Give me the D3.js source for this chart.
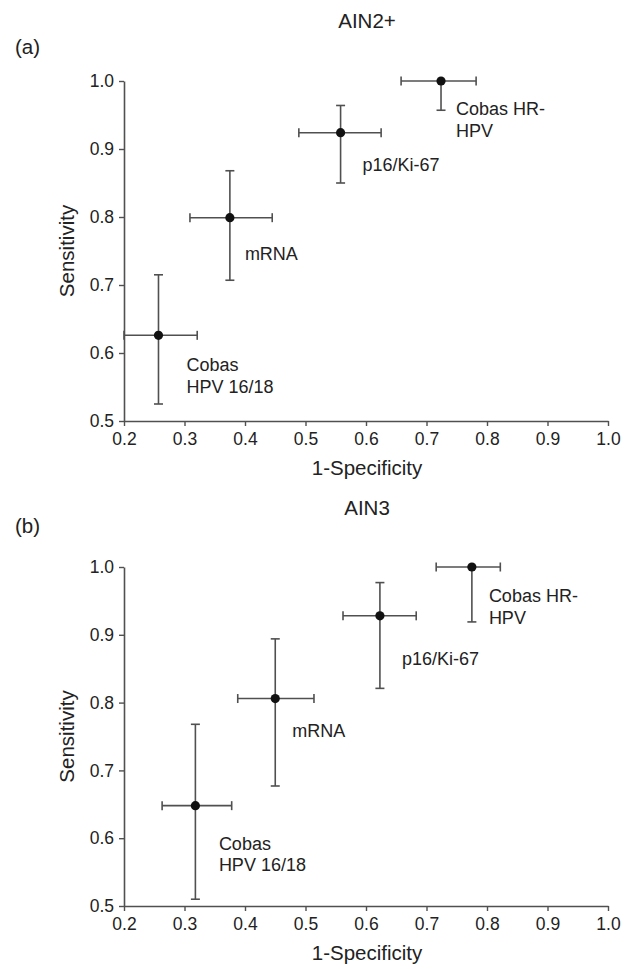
<!DOCTYPE html>
<html>
<head>
<meta charset="utf-8">
<script src="https://cdn.jsdelivr.net/npm/d3@7"></script>
<style>
  body { margin: 0; background: #fff; }
  svg { display: block; }
  text { font-family: "Liberation Sans", Arial, sans-serif; fill: #222; }
</style>
</head>
<body>
<script>
// Test names, shared by both panels
var methods = ["Cobas HR-HPV", "p16/Ki-67", "mRNA", "Cobas HPV 16/18"];
var methodLines = [["Cobas HR-", "HPV"], ["p16/Ki-67"], ["mRNA"], ["Cobas", "HPV 16/18"]];

// Panel (a) AIN2+ : 1-specificity and sensitivity with 95% CI
var ain2X   = [0.724, 0.558, 0.375, 0.257];
var ain2XLo = [0.658, 0.489, 0.309, 0.200];
var ain2XHi = [0.782, 0.625, 0.445, 0.321];
var ain2Y   = [1.000, 0.924, 0.799, 0.626];
var ain2YLo = [0.957, 0.850, 0.707, 0.525];
var ain2YHi = [1.000, 0.964, 0.868, 0.715];

// Panel (b) AIN3
var ain3X   = [0.775, 0.623, 0.450, 0.318];
var ain3XLo = [0.716, 0.562, 0.388, 0.263];
var ain3XHi = [0.822, 0.683, 0.514, 0.378];
var ain3Y   = [1.000, 0.928, 0.806, 0.648];
var ain3YLo = [0.919, 0.821, 0.677, 0.510];
var ain3YHi = [1.000, 0.977, 0.894, 0.768];

var xTicks = [0.2, 0.3, 0.4, 0.5, 0.6, 0.7, 0.8, 0.9, 1.0];
var yTicks = [0.5, 0.6, 0.7, 0.8, 0.9, 1.0];

var width = 624, height = 969;
var svg = d3.select("body").append("svg")
    .attr("width", width)
    .attr("height", height);

var lineColor = "#505050";

function rows(xs, xlo, xhi, ys, ylo, yhi) {
    return methods.map(function (m, i) {
        return { name: m, lines: methodLines[i], x: xs[i], xlo: xlo[i], xhi: xhi[i],
                 y: ys[i], ylo: ylo[i], yhi: yhi[i] };
    });
}

// Draws one panel; top/bottom are pixel rows of sensitivity 1.0 and 0.5
function drawPanel(opts) {
    var x = d3.scaleLinear().domain([0.2, 1.0]).range([124, 608]);
    var y = d3.scaleLinear().domain([0.5, 1.0]).range([opts.bottom, opts.top]);
    var g = svg.append("g");

    // Panel title and letter
    g.append("text").attr("x", 367).attr("y", opts.titleY)
        .attr("text-anchor", "middle").style("font-size", "20.5px").text(opts.title);
    g.append("text").attr("x", 15).attr("y", opts.letterY)
        .style("font-size", "20.5px").text(opts.letter);

    // Axes
    var xAxis = g.append("g").attr("transform", "translate(0," + opts.bottom + ")")
        .call(d3.axisBottom(x).tickValues(xTicks).tickFormat(d3.format(".1f"))
            .tickSize(5).tickSizeOuter(0).tickPadding(7));
    var yAxis = g.append("g").attr("transform", "translate(124,0)")
        .call(d3.axisLeft(y).tickValues(yTicks).tickFormat(d3.format(".1f"))
            .tickSize(5).tickSizeOuter(0).tickPadding(5));
    [xAxis, yAxis].forEach(function (a) {
        a.select(".domain").attr("stroke", lineColor).attr("stroke-width", 1.6);
        a.selectAll(".tick line").attr("stroke", lineColor).attr("stroke-width", 1.4);
        a.selectAll(".tick text").attr("fill", "#222")
            .style("font-family", "'Liberation Sans', Arial, sans-serif")
            .style("font-size", "17.5px");
    });

    g.append("text").attr("x", 367).attr("y", opts.bottom + 54)
        .attr("text-anchor", "middle").style("font-size", "20.5px").text("1-Specificity");
    g.append("text")
        .attr("transform", "translate(74," + (opts.top + opts.bottom) / 2 + ") rotate(-90)")
        .attr("text-anchor", "middle").style("font-size", "20.5px").text("Sensitivity");

    var pts = g.selectAll(".pt").data(opts.data).enter().append("g").attr("class", "pt");
    var cap = 4.5;

    // horizontal CI
    pts.append("line")
        .attr("x1", function (d) { return x(d.xlo); }).attr("x2", function (d) { return x(d.xhi); })
        .attr("y1", function (d) { return y(d.y); }).attr("y2", function (d) { return y(d.y); });
    pts.append("line")
        .attr("x1", function (d) { return x(d.xlo); }).attr("x2", function (d) { return x(d.xlo); })
        .attr("y1", function (d) { return y(d.y) - cap; }).attr("y2", function (d) { return y(d.y) + cap; });
    pts.append("line")
        .attr("x1", function (d) { return x(d.xhi); }).attr("x2", function (d) { return x(d.xhi); })
        .attr("y1", function (d) { return y(d.y) - cap; }).attr("y2", function (d) { return y(d.y) + cap; });

    // vertical CI
    pts.append("line")
        .attr("x1", function (d) { return x(d.x); }).attr("x2", function (d) { return x(d.x); })
        .attr("y1", function (d) { return y(d.ylo); }).attr("y2", function (d) { return y(d.yhi); });
    pts.append("line")
        .attr("x1", function (d) { return x(d.x) - cap; }).attr("x2", function (d) { return x(d.x) + cap; })
        .attr("y1", function (d) { return y(d.ylo); }).attr("y2", function (d) { return y(d.ylo); });
    pts.filter(function (d) { return d.yhi < 1; }).append("line")
        .attr("x1", function (d) { return x(d.x) - cap; }).attr("x2", function (d) { return x(d.x) + cap; })
        .attr("y1", function (d) { return y(d.yhi); }).attr("y2", function (d) { return y(d.yhi); });

    pts.selectAll("line").attr("stroke", lineColor).attr("stroke-width", 1.6);

    pts.append("circle")
        .attr("cx", function (d) { return x(d.x); })
        .attr("cy", function (d) { return y(d.y); })
        .attr("r", 4.6).attr("fill", "#111");

    // method labels, offset from each point
    pts.each(function (d, i) {
        var off = opts.labelOffsets[i];
        var t = d3.select(this).append("text")
            .attr("x", x(d.x) + off[0])
            .attr("y", y(d.y) + off[1])
            .style("font-size", "18px");
        d.lines.forEach(function (ln, k) {
            t.append("tspan").attr("x", x(d.x) + off[0]).attr("dy", k === 0 ? 0 : 21.5).text(ln);
        });
    });
}

drawPanel({
    title: "AIN2+", letter: "(a)", titleY: 28, letterY: 54,
    top: 81, bottom: 421,
    data: rows(ain2X, ain2XLo, ain2XHi, ain2Y, ain2YLo, ain2YHi),
    labelOffsets: [[15, 34], [22, 38], [15, 42], [28, 36]]
});

drawPanel({
    title: "AIN3", letter: "(b)", titleY: 515, letterY: 533,
    top: 567, bottom: 906,
    data: rows(ain3X, ain3XLo, ain3XHi, ain3Y, ain3YLo, ain3YHi),
    labelOffsets: [[17, 35], [22, 49], [17, 38], [23.5, 44]]
});
</script>
</body>
</html>
